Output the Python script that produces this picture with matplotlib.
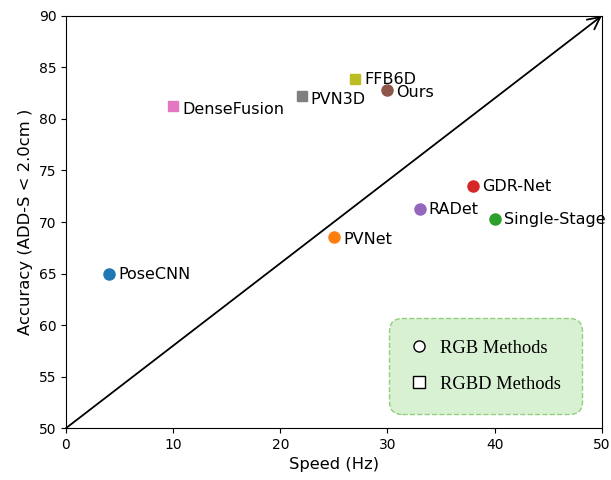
import matplotlib
matplotlib.use("Agg")
import matplotlib.pyplot as plt
from matplotlib.lines import Line2D

methods = ["PoseCNN", "PVNet", "RADet", "GDR-Net", "Single-Stage",
           "DenseFusion", "PVN3D", "FFB6D", "Ours"]
speed = [4, 25, 33, 38, 40, 10, 22, 27, 30]
accuracy = [65.0, 68.5, 71.3, 73.5, 70.3, 81.3, 82.2, 83.9, 82.8]
markers = ["o", "o", "o", "o", "o", "s", "s", "s", "o"]
colors = ["tab:blue", "tab:orange", "tab:purple", "tab:red", "tab:green",
          "tab:pink", "tab:gray", "tab:olive", "tab:brown"]
label_dy = [-0.1, -0.2, -0.1, -0.1, -0.1, -0.4, -0.3, -0.1, -0.2]

fig = plt.figure(figsize=(6.11, 4.8), dpi=100)
ax = fig.add_axes([0.108, 0.108, 0.877, 0.859])

for x, y, m, c, name, dy in zip(speed, accuracy, markers, colors, methods, label_dy):
    ax.plot(x, y, marker=m, color=c, markersize=8 if m == "o" else 7.5, linestyle="none")
    ax.text(x + 0.85, y + dy, name, fontsize=11.5, va="center", ha="left")

ax.annotate("", xy=(50, 90), xytext=(0, 50),
            arrowprops=dict(arrowstyle="->", color="black", lw=1.3, mutation_scale=22,
                            shrinkA=0, shrinkB=0))

ax.set_xlim(0, 50)
ax.set_ylim(50, 90)
ax.set_xlabel("Speed (Hz)", fontsize=11.8)
ax.set_ylabel("Accuracy (ADD-S < 2.0cm )", fontsize=11.8)

handles = [Line2D([], [], marker="o", color="black", markerfacecolor="white",
                  linestyle="none", markersize=8, markeredgewidth=1),
           Line2D([], [], marker="s", color="black", markerfacecolor="white",
                  linestyle="none", markersize=8, markeredgewidth=1)]
leg = ax.legend(handles, ["RGB Methods", "RGBD Methods"],
                prop={"family": "Liberation Serif", "size": 13.3},
                loc="lower right", bbox_to_anchor=(0.963, 0.034),
                fancybox=True, framealpha=1, borderpad=1.15, labelspacing=1.05,
                handlelength=0.9, handletextpad=0.7, borderaxespad=0)
frame = leg.get_frame()
frame.set_facecolor("#d9f1d3")
frame.set_edgecolor("#8fcf7f")
frame.set_linestyle("--")
frame.set_linewidth(1)
frame.set_boxstyle("round", pad=0, rounding_size=0.7)

fig.savefig("out.png", dpi=100)
